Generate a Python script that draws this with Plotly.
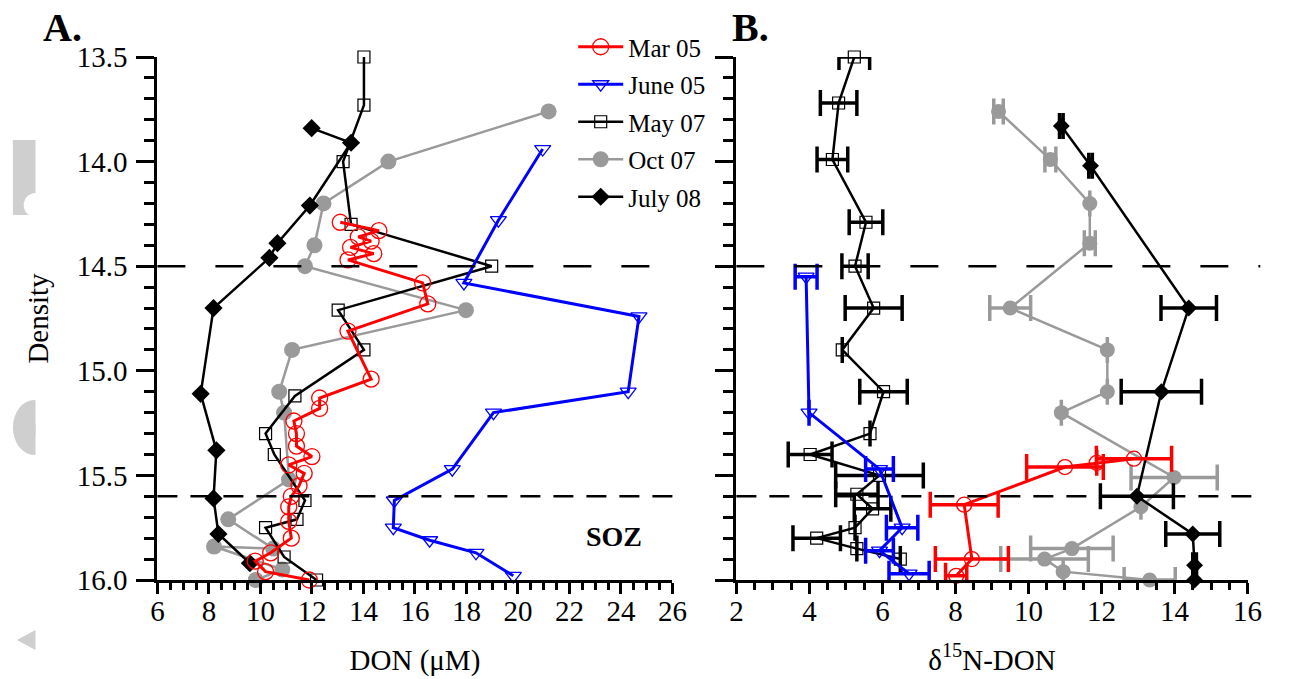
import plotly.graph_objects as go

# ---------------- Panel A: DON (uM) vs density ----------------
mar05_A_den = [14.29, 14.33, 14.36, 14.38, 14.41, 14.44, 14.47, 14.58, 14.68, 14.81, 15.04, 15.13, 15.18,
               15.24, 15.30, 15.36, 15.41, 15.45, 15.49, 15.55, 15.60, 15.65, 15.72, 15.80, 15.87, 15.91,
               15.96, 16.00]
mar05_A_don = [13.1, 14.6, 13.8, 14.3, 13.5, 14.4, 13.4, 16.3, 16.5, 13.4, 14.3, 12.3, 12.3,
               11.3, 11.4, 11.4, 12.0, 11.1, 11.7, 11.5, 11.2, 11.1, 11.1, 11.2, 10.4, 9.8,
               10.2, 11.9]

june05_A_den = [13.94, 14.28, 14.58, 14.74, 15.10, 15.20, 15.47, 15.62, 15.75, 15.81, 15.87, 15.98]
june05_A_don = [20.96, 19.24, 17.9, 24.7, 24.28, 19.05, 17.45, 15.2, 15.16, 16.57, 18.37, 19.82]

may07_A_den = [13.50, 13.73, 14.00, 14.30, 14.50, 14.71, 14.90, 15.12, 15.30, 15.40, 15.62, 15.71,
               15.75, 15.89, 16.00]
may07_A_don = [14.02, 14.02, 13.21, 13.52, 18.98, 13.02, 14.02, 11.34, 10.2, 10.54, 11.73, 11.42,
               10.2, 10.92, 12.18]

oct07_A_den = [13.76, 14.00, 14.20, 14.40, 14.50, 14.71, 14.90, 15.10, 15.20, 15.52, 15.71, 15.85,
               15.84, 15.95, 16.00]
oct07_A_don = [21.19, 14.97, 12.45, 12.1, 11.73, 17.98, 11.23, 10.73, 10.92, 11.11, 8.75, 10.5,
               8.2, 10.85, 9.82]

july08_A_den = [13.84, 13.91, 14.21, 14.39, 14.46, 14.70, 15.11, 15.38, 15.61, 15.78, 15.92]
july08_A_don = [11.99, 13.52, 11.92, 10.66, 10.35, 8.18, 7.68, 8.29, 8.18, 8.37, 9.59]

# ---------------- Panel B: d15N-DON vs density ----------------
mar05_B_den = [15.42, 15.44, 15.46, 15.64, 15.90, 15.98]
mar05_B_d15 = [12.89, 11.87, 11.0, 8.24, 8.45, 8.02]
mar05_B_err = [1.03, 0.0, 1.05, 0.93, 1.0, 0.29]

june05_B_den = [14.55, 15.20, 15.47, 15.75, 15.86, 15.97]
june05_B_d15 = [3.91, 3.99, 5.92, 6.54, 5.92, 6.73]
june05_B_err = [0.3, 0.0, 0.38, 0.43, 0.38, 0.55]

may07_B_den = [13.50, 13.72, 13.99, 14.29, 14.50, 14.70, 14.90, 15.10, 15.30, 15.40, 15.50, 15.59,
               15.66, 15.75, 15.80, 15.85, 15.90]
may07_B_d15 = [5.23, 4.8, 4.63, 5.55, 5.25, 5.76, 4.9, 6.03, 5.66, 4.02, 5.92, 5.3,
               5.73, 5.25, 4.2, 5.3, 6.49]
may07_B_err = [0.42, 0.5, 0.42, 0.46, 0.36, 0.78, 0.0, 0.65, 0.0, 0.6, 1.2, 0.58,
               0.5, 0.0, 0.65, 0.0, 0.0]

oct07_B_den = [13.76, 13.99, 14.20, 14.39, 14.70, 14.90, 15.10, 15.20, 15.51, 15.65, 15.85, 15.90,
               15.96, 16.00]
oct07_B_d15 = [9.18, 10.6, 11.68, 11.68, 9.5, 12.16, 12.16, 10.9, 13.99, 13.08, 11.19, 10.44,
               10.95, 13.32]
oct07_B_err = [0.13, 0.15, 0.0, 0.15, 0.56, 0.0, 0.0, 0.0, 1.18, 0.0, 1.13, 1.2,
               0.0, 0.7]

july08_B_den = [13.83, 14.02, 14.70, 15.10, 15.60, 15.78, 15.93, 16.00]
july08_B_d15 = [10.9, 11.7, 14.39, 13.64, 12.97, 14.5, 14.55, 14.55]
july08_B_err = [0.05, 0.05, 0.76, 1.1, 1.0, 0.74, 0.05, 0.05]

series_names = ["Mar 05", "June 05", "May 07", "Oct 07", "July 08"]

RED, BLUE, BLACK, GREY = "#ff0000", "#0000ff", "#000000", "#9a9a9a"
FONT = "Liberation Serif"
W, H = 1293, 679
ML, MR, MT, MB = 0, 0, 57, 99


def px_x(px):
    return px / W


def px_y(py):
    return (H - MB - py) / (H - MT - MB)


styles = {
    "Mar 05": dict(color=RED, symbol="circle-open", sizeA=16, sizeB=15, lw=3, mlw=1.3),
    "June 05": dict(color=BLUE, symbol="triangle-down-open", sizeA=14, sizeB=14, lw=3, mlw=1.3),
    "May 07": dict(color=BLACK, symbol="square-open", sizeA=12, sizeB=12, lw=2.5, mlw=1.2),
    "Oct 07": dict(color=GREY, symbol="circle", sizeA=16, sizeB=15, lw=2.5, mlw=0),
    "July 08": dict(color=BLACK, symbol="diamond", sizeA=14, sizeB=13, lw=2.5, mlw=0),
}

dataA = {
    "Mar 05": (mar05_A_don, mar05_A_den),
    "June 05": (june05_A_don, june05_A_den),
    "May 07": (may07_A_don, may07_A_den),
    "Oct 07": (oct07_A_don, oct07_A_den),
    "July 08": (july08_A_don, july08_A_den),
}
dataB = {
    "Mar 05": (mar05_B_d15, mar05_B_den, mar05_B_err),
    "June 05": (june05_B_d15, june05_B_den, june05_B_err),
    "May 07": (may07_B_d15, may07_B_den, may07_B_err),
    "Oct 07": (oct07_B_d15, oct07_B_den, oct07_B_err),
    "July 08": (july08_B_d15, july08_B_den, july08_B_err),
}

fig = go.Figure()
draw_order = ["Oct 07", "July 08", "May 07", "June 05", "Mar 05"]

for name in draw_order:
    s = styles[name]
    x, y = dataA[name]
    fig.add_trace(go.Scatter(
        x=x, y=y, mode="lines+markers", name=name, legendgroup=name,
        legendrank=series_names.index(name),
        line=dict(color=s["color"], width=s["lw"]),
        marker=dict(symbol=s["symbol"], size=s["sizeA"], color=s["color"],
                    line=dict(color=s["color"], width=s["mlw"])),
        xaxis="x", yaxis="y", cliponaxis=False))

for name in draw_order:
    s = styles[name]
    x, y, e = dataB[name]
    fig.add_trace(go.Scatter(
        x=x, y=y, mode="lines+markers", name=name, legendgroup=name, showlegend=False,
        legendrank=series_names.index(name),
        line=dict(color=s["color"], width=s["lw"]),
        marker=dict(symbol=s["symbol"], size=s["sizeB"], color=s["color"],
                    line=dict(color=s["color"], width=s["mlw"])),
        error_x=dict(type="data", array=e, visible=True, color=s["color"], thickness=3.5, width=13),
        xaxis="x2", yaxis="y2", cliponaxis=False))

axis_common = dict(showline=True, linecolor="black", linewidth=3, ticks="outside",
                   tickcolor="black", tickwidth=3, showgrid=False, zeroline=False,
                   tickfont=dict(family=FONT, size=29, color="black"), mirror=False)

fig.update_layout(
    width=W, height=H, paper_bgcolor="white", plot_bgcolor="white",
    margin=dict(l=ML, r=MR, t=MT, b=MB),
    font=dict(family=FONT, color="black"),
    xaxis=dict(domain=[px_x(153), px_x(677)], range=[6, 26], dtick=2, ticklen=11,
               ticklabelstandoff=-8,
               minor=dict(dtick=0.5, ticklen=7, tickwidth=2.5, ticks="outside", tickcolor="black"),
               title=dict(text="DON (μM)", font=dict(family=FONT, size=29), standoff=24),
               anchor="y", **axis_common),
    yaxis=dict(domain=[0, 1], range=[16.0, 13.5], dtick=0.5, tickformat=".1f", ticklen=18,
               ticklabelstandoff=3,
               minor=dict(dtick=0.1, ticklen=10, tickwidth=2.5, ticks="outside", tickcolor="black"),
               title=dict(text="Density", font=dict(family=FONT, size=29), standoff=20),
               anchor="x", **axis_common),
    xaxis2=dict(domain=[px_x(742), px_x(1262)], range=[2, 16], dtick=2, ticklen=11,
                ticklabelstandoff=-8,
                minor=dict(dtick=0.5, ticklen=7, tickwidth=2.5, ticks="outside", tickcolor="black"),
                title=dict(text="δ<sup>15</sup>N-DON", font=dict(family=FONT, size=29), standoff=24),
                anchor="y2", **axis_common),
    yaxis2=dict(domain=[0, 1], range=[16.0, 13.5], dtick=0.5, ticklen=18, showticklabels=False,
                minor=dict(dtick=0.1, ticklen=10, tickwidth=2.5, ticks="outside", tickcolor="black"),
                anchor="x2", **axis_common),
    legend=dict(x=px_x(576), y=px_y(24), xanchor="left", yanchor="top",
                bgcolor="rgba(0,0,0,0)", font=dict(family=FONT, size=25, color="black"),
                itemwidth=45, tracegroupgap=2, traceorder="grouped"),
    showlegend=True,
)

# dashed reference lines (14.5 and 15.6)
for (x0, x1, xr, yr) in [(px_x(153), px_x(680), "paper", "y"), (px_x(742), px_x(1275), "paper", "y2")]:
    fig.add_shape(type="line", xref=xr, yref=yr, x0=x0, x1=x1, y0=14.5, y1=14.5,
                  line=dict(color="black", width=2.5, dash="28px,30px"))
    fig.add_shape(type="line", xref=xr, yref=yr, x0=x0, x1=x1, y0=15.6, y1=15.6,
                  line=dict(color="black", width=2.5, dash="20px,13px"))

# panel labels and SOZ
fig.add_annotation(x=px_x(56), y=px_y(27), xref="paper", yref="paper", text="<b>A.</b>",
                   xanchor="center", yanchor="middle",
                   showarrow=False, font=dict(family=FONT, size=40, color="black"))
fig.add_annotation(x=px_x(756), y=px_y(27), xref="paper", yref="paper", text="<b>B.</b>",
                   xanchor="center", yanchor="middle",
                   showarrow=False, font=dict(family=FONT, size=40, color="black"))
fig.add_annotation(x=px_x(617), y=px_y(536), xref="paper", yref="paper", text="<b>SOZ</b>",
                   xanchor="center", yanchor="middle",
                   showarrow=False, font=dict(family=FONT, size=28, color="black"))

# light grey page artefacts on the left edge
G = "#cfcfcf"
fig.add_shape(type="rect", xref="paper", yref="paper", x0=px_x(6), x1=px_x(29), y0=px_y(215), y1=px_y(140),
              fillcolor=G, line=dict(width=0))
fig.add_shape(type="circle", xref="paper", yref="paper", x0=px_x(17), x1=px_x(41), y0=px_y(217), y1=px_y(193),
              fillcolor="white", line=dict(width=0))
fig.add_shape(type="circle", xref="paper", yref="paper", x0=px_x(6), x1=px_x(50), y0=px_y(455), y1=px_y(400),
              fillcolor=G, line=dict(width=0))
fig.add_shape(type="rect", xref="paper", yref="paper", x0=px_x(29), x1=px_x(52), y0=px_y(460), y1=px_y(395),
              fillcolor="white", line=dict(width=0))
fig.add_shape(type="path", xref="paper", yref="paper",
              path=f"M {px_x(18)} {px_y(433)} L {px_x(29)} {px_y(423)} L {px_x(29)} {px_y(435)} Z",
              fillcolor=G, line=dict(width=0))
fig.add_shape(type="path", xref="paper", yref="paper",
              path=f"M {px_x(10)} {px_y(640)} L {px_x(29)} {px_y(630)} L {px_x(29)} {px_y(650)} Z",
              fillcolor=G, line=dict(width=0))

fig.write_html("out.html")
